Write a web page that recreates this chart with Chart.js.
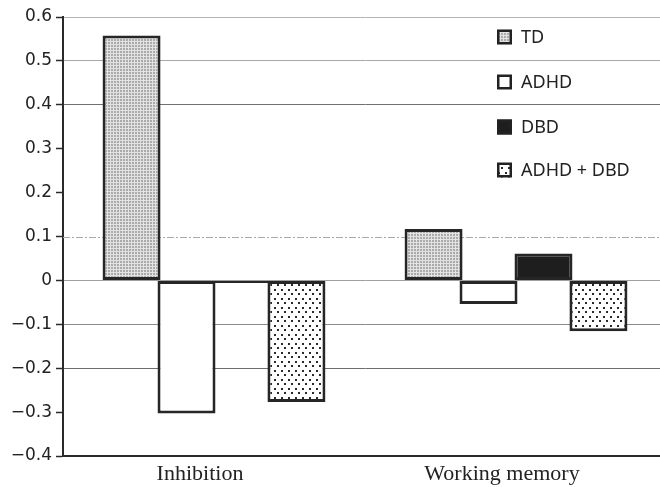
<!DOCTYPE html>
<html>
<head>
<meta charset="utf-8">
<script src="https://cdn.jsdelivr.net/npm/chart.js@4"></script>
<style>
  html, body { margin: 0; padding: 0; background: #fff; overflow: hidden; width: 660px; height: 487px; }
  #wrap { position: absolute; left: 0; top: 0; width: 680px; height: 487px; }
</style>
</head>
<body>
<div id="wrap"><canvas id="c" width="680" height="487"></canvas></div>
<script>
// ---- data ----
const categories = ['Inhibition', 'Working memory'];
const seriesNames = ['TD', 'ADHD', 'DBD', 'ADHD + DBD'];
const tdValues = [0.558, 0.117];
const adhdValues = [-0.303, -0.054];
const dbdValues = [-0.006, 0.061];
const adhdDbdValues = [-0.277, -0.116];
const yMin = -0.4, yMax = 0.6, yStep = 0.1;

// ---- patterns ----
function makePattern(w, h, draw) {
  const c = document.createElement('canvas');
  c.width = w; c.height = h;
  const g = c.getContext('2d');
  draw(g);
  return g.createPattern(c, 'repeat');
}
const checkPattern = makePattern(3, 3, g => {
  g.fillStyle = '#e2e2e2'; g.fillRect(0, 0, 3, 3);
  g.fillStyle = '#ababab'; g.fillRect(0, 0, 2, 2);
});
const dotPattern = makePattern(7, 9, g => {
  g.fillStyle = '#ffffff'; g.fillRect(0, 0, 7, 9);
  g.fillStyle = '#2a2a2a';
  g.fillRect(1, 1, 2, 2);
  g.fillRect(4, 5, 2, 2);
});
const fills = [checkPattern, '#ffffff', '#1e1e1e', dotPattern];
const valueSets = [tdValues, adhdValues, dbdValues, adhdDbdValues];

const gridColors = ['rgba(0,0,0,0)', 'rgba(0,0,0,0)', '#6e6e6e', '#8a8a8a', '#a0a0a0',
                    'rgba(0,0,0,0)', 'rgba(0,0,0,0)', 'rgba(0,0,0,0)', '#707070', '#a8a8a8', '#b4b4b4'];

const dashLinePlugin = {
  id: 'dashLine',
  beforeDatasetsDraw(chart) {
    const y = chart.scales.y.getPixelForValue(0.1);
    const a = chart.chartArea;
    const g = chart.ctx;
    g.save();
    g.strokeStyle = '#a8a8a8';
    g.lineWidth = 1;
    g.setLineDash([7, 2, 2, 2]);
    g.beginPath();
    g.moveTo(a.left, Math.round(y) + 0.5);
    g.lineTo(a.right, Math.round(y) + 0.5);
    g.stroke();
    g.restore();
  }
};

const legendPlugin = {
  id: 'boxLegend',
  afterDraw(chart) {
    const g = chart.ctx;
    const x0 = 497, ys = [37, 82, 127, 170];
    g.save();
    chart.data.datasets.forEach((ds, i) => {
      const yc = ys[i];
      g.fillStyle = ds.backgroundColor;
      g.fillRect(x0, yc - 7.5, 15, 15);
      g.strokeStyle = '#222';
      g.lineWidth = 2.5;
      g.strokeRect(x0 + 1.25, yc - 6.25, 12.5, 12.5);
      g.fillStyle = '#222';
      g.font = '18px "Noto Sans"';
      g.textBaseline = 'middle';
      g.textAlign = 'left';
      g.fillText(ds.label, 521, yc + 1);
    });
    g.restore();
  }
};

new Chart(document.getElementById('c'), {
  type: 'bar',
  data: {
    labels: categories,
    datasets: seriesNames.map((name, i) => ({
      label: name,
      data: valueSets[i],
      backgroundColor: fills[i],
      borderColor: '#262626',
      borderWidth: 3,
      borderSkipped: false,
      categoryPercentage: 0.728,
      barPercentage: 1.055
    }))
  },
  options: {
    responsive: false,
    animation: false,
    events: [],
    layout: { padding: { top: 17, right: 13, left: 0, bottom: 0 } },
    plugins: { legend: { display: false }, tooltip: { enabled: false } },
    scales: {
      x: {
        grid: { display: false, drawTicks: false },
        border: { display: true, color: '#2a2a2a', width: 2 },
        ticks: { color: '#222', font: { family: '"Liberation Serif"', size: 22 }, padding: 5, labelOffset: -14 },
        afterFit(s) { s.height = 31; }
      },
      y: {
        min: yMin, max: yMax,
        ticks: {
          stepSize: yStep,
          color: '#222',
          padding: 4,
          font: { family: '"DejaVu Sans"', size: 17 },
          callback(v) {
            const r = Math.round(v * 10) / 10;
            if (r === 0) return '0';
            return (r < 0 ? '\u2212' : '') + Math.abs(r).toFixed(1);
          }
        },
        grid: {
          color: (c) => gridColors[c.index] || 'rgba(0,0,0,0)',
          lineWidth: 1,
          drawTicks: true,
          tickLength: 7,
          tickColor: '#2a2a2a',
          tickWidth: 1.5
        },
        border: { display: true, color: '#2a2a2a', width: 2 },
        afterFit(s) { s.width = 63; }
      }
    }
  },
  plugins: [dashLinePlugin, legendPlugin]
});
</script>
</body>
</html>
